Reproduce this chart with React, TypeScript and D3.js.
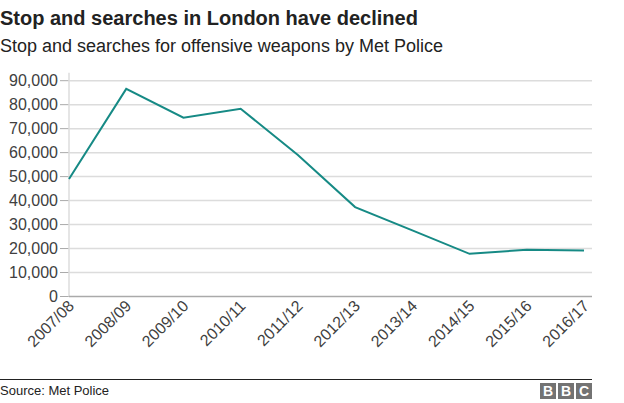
import React from "react";
import * as d3 from "d3";

const years = ["2007/08","2008/09","2009/10","2010/11","2011/12","2012/13","2013/14","2014/15","2015/16","2016/17"];
const searches = [49000, 86600, 74600, 78300, 59000, 37300, 27600, 17800, 19500, 19200];
const yTicks = [0,10000,20000,30000,40000,50000,60000,70000,80000,90000];

const W = 624, H = 403;
const FONT = "'Liberation Sans', Arial, Helvetica, sans-serif";

export default function App() {
  const x = d3.scalePoint<string>().domain(years).range([69, 584]);
  const y = d3.scaleLinear().domain([0, 90000]).range([296.5, 80.7]);
  const line = d3.line<number>().x((_, i) => x(years[i])!).y(d => y(d));
  const fmt = d3.format(",");
  return (
    <svg width={W} height={H} style={{ position: "absolute", left: 0, top: 0, fontFamily: FONT }}>
      <text x={0} y={25} fontSize={20} fontWeight="bold" fill="#222">Stop and searches in London have declined</text>
      <text x={0} y={52} fontSize={18} fill="#222">Stop and searches for offensive weapons by Met Police</text>
      {yTicks.map(t => (
        <g key={t}>
          {t > 0 && <line x1={69} x2={592} y1={y(t)} y2={y(t)} stroke="#dcdcdc" strokeWidth={1.5} />}
          <line x1={60} x2={69} y1={y(t)} y2={y(t)} stroke="#aaa" strokeWidth={1} />
          <text x={58} y={y(t)} dy="0.35em" textAnchor="end" fontSize={16} fill="#404040">{fmt(t)}</text>
        </g>
      ))}
      <line x1={69} x2={69} y1={y(90000) - 8} y2={y(0)} stroke="#dcdcdc" strokeWidth={1.5} />
      <line x1={69} x2={592} y1={y(0)} y2={y(0)} stroke="#aaa" strokeWidth={1.5} />
      {years.map(yr => (
        <text key={yr} transform={`translate(${x(yr)! + 6},${307}) rotate(-45)`} textAnchor="end" fontSize={16} fill="#404040">{yr}</text>
      ))}
      <path d={line(searches) || ""} fill="none" stroke="#168a85" strokeWidth={2} />
      <line x1={0} x2={592} y1={379.5} y2={379.5} stroke="#222" strokeWidth={1} />
      <text x={0} y={395} fontSize={13} fill="#222">Source: Met Police</text>
      {["B","B","C"].map((c, i) => (
        <g key={i}>
          <rect x={540 + i * 18} y={383} width={16} height={16} fill="#737373" />
          <text x={548 + i * 18} y={396} textAnchor="middle" fontSize={14} fontWeight="bold" fill="#fff">{c}</text>
        </g>
      ))}
    </svg>
  );
}
